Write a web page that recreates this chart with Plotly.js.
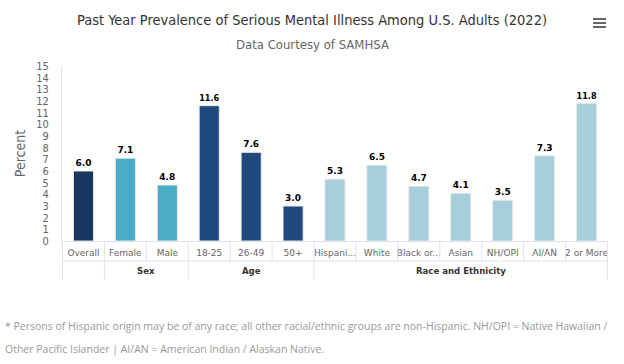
<!DOCTYPE html>
<html>
<head>
<meta charset="utf-8">
<script src="https://cdn.plot.ly/plotly-3.0.1.min.js"></script>
<style>html,body{margin:0;padding:0;background:#fff;}#chart{width:624px;height:364px;}</style>
</head>
<body>
<div id="chart"></div>
<script>
// ---- data ----
const categories = ["Overall","Female","Male","18-25","26-49","50+","Hispanic","White","Black or African American","Asian","NH/OPI","AI/AN","2 or More"];
const tickLabels = ["Overall","Female","Male","18-25","26-49","50+","Hispani...","White","Black or...","Asian","NH/OPI","AI/AN","2 or More"];
const values = [6.0, 7.1, 4.8, 11.6, 7.6, 3.0, 5.3, 6.5, 4.7, 4.1, 3.5, 7.3, 11.8];
const groupOf = ["Overall","Sex","Sex","Age","Age","Age","Race and Ethnicity","Race and Ethnicity","Race and Ethnicity","Race and Ethnicity","Race and Ethnicity","Race and Ethnicity","Race and Ethnicity"];
const groupNames = ["Sex","Age","Race and Ethnicity"];
const groupColors = {"Overall":"#17375e","Sex":"#4bacc6","Age":"#1f497d","Race and Ethnicity":"#a9cedb"};
const titleText = "Past Year Prevalence of Serious Mental Illness Among U.S. Adults (2022)";
const subtitleText = "Data Courtesy of SAMHSA";
const footnote1 = "* Persons of Hispanic origin may be of any race; all other racial/ethnic groups are non-Hispanic. NH/OPI = Native Hawaiian /";
const footnote2 = "Other Pacific Islander | AI/AN = American Indian / Alaskan Native.";

// ---- geometry helpers (pixels -> paper) ----
const L = 62, R = 16, T = 66, B = 123, W = 624, H = 364;
const pw = W - L - R, ph = H - T - B;
const py = y => (H - B - y) / ph;
const px = x => (x - L) / pw;
const lineColor = "#dde3ef";
const narrow = "DejaVu Sans Condensed, Roboto, sans-serif";

const trace = {
  type: "bar",
  x: categories,
  y: values,
  marker: { color: groupOf.map(g => groupColors[g]), line: { color: "#e9e9e9", width: 1 } },
  texttemplate: "%{y:.1f}",
  textposition: "outside",
  cliponaxis: false,
  textfont: { family: "DejaVu Sans", size: 9, color: "#000", weight: "bold" },
  hoverinfo: "x+y"
};

const shapes = [];
for (let i = 0; i <= categories.length; i++) {
  shapes.push({ type: "line", xref: "x", yref: "paper", x0: i - 0.5, x1: i - 0.5, y0: py(241), y1: py(261), line: { color: lineColor, width: 1 } });
}
shapes.push({ type: "line", xref: "paper", yref: "paper", x0: 0, x1: 1, y0: py(261), y1: py(261), line: { color: lineColor, width: 1 } });
const annotations = [];
let start = 0;
const bounds = [-0.5];
for (let i = 1; i <= categories.length; i++) {
  if (i === categories.length || groupOf[i] !== groupOf[i - 1]) {
    bounds.push(i - 0.5);
    const g = groupOf[i - 1];
    if (groupNames.includes(g)) {
      annotations.push({ xref: "x", yref: "paper", x: (start + i - 1) / 2, y: py(270.5), text: g, showarrow: false, yanchor: "middle",
        font: { family: narrow, size: 9.5, color: "#333", weight: "bold" } });
    }
    start = i;
  }
}
bounds.forEach(b => shapes.push({ type: "line", xref: "x", yref: "paper", x0: b, x1: b, y0: py(261), y1: py(280), line: { color: lineColor, width: 1 } }));

// menu icon
[19, 23, 27].forEach(y => shapes.push({ type: "line", xref: "paper", yref: "paper", x0: px(593), x1: px(606), y0: py(y), y1: py(y), line: { color: "#666", width: 2 } }));

annotations.push({ xref: "paper", yref: "paper", x: px(312), y: py(45), text: subtitleText, showarrow: false, xanchor: "center", yanchor: "middle",
  font: { family: narrow, size: 13, color: "#666" } });
annotations.push({ xref: "paper", yref: "paper", x: px(3), y: py(326), text: footnote1, showarrow: false, xanchor: "left", yanchor: "middle",
  font: { family: "Open Sans", size: 10.5, color: "#999" } });
annotations.push({ xref: "paper", yref: "paper", x: px(3), y: py(349), text: footnote2, showarrow: false, xanchor: "left", yanchor: "middle",
  font: { family: "Open Sans", size: 10.5, color: "#999" } });

const layout = {
  width: W, height: H,
  margin: { l: L, r: R, t: T, b: B },
  paper_bgcolor: "#fff", plot_bgcolor: "#fff",
  title: { text: titleText, x: 0.5, xref: "container", y: 1 - 20 / H, yref: "container", yanchor: "middle",
    font: { family: narrow, size: 14.5, color: "#333" } },
  bargap: 0.52,
  showlegend: false,
  xaxis: {
    type: "category", tickvals: categories, ticktext: tickLabels,
    showline: true, linecolor: lineColor, showgrid: false, ticks: "", ticklabelstandoff: 3,
    tickfont: { family: "DejaVu Sans", size: 9, color: "#666" }, fixedrange: true
  },
  yaxis: {
    range: [0, 15], dtick: 1, showgrid: false, zeroline: false,
    showline: true, linecolor: lineColor, ticks: "", ticklabelstandoff: 10,
    tickfont: { family: narrow, size: 11, color: "#666" },
    title: { text: "Percent", standoff: 7, font: { family: narrow, size: 14, color: "#666" } },
    fixedrange: true
  },
  shapes: shapes,
  annotations: annotations
};

Plotly.newPlot("chart", [trace], layout, { displayModeBar: false, staticPlot: true });
</script>
</body>
</html>
